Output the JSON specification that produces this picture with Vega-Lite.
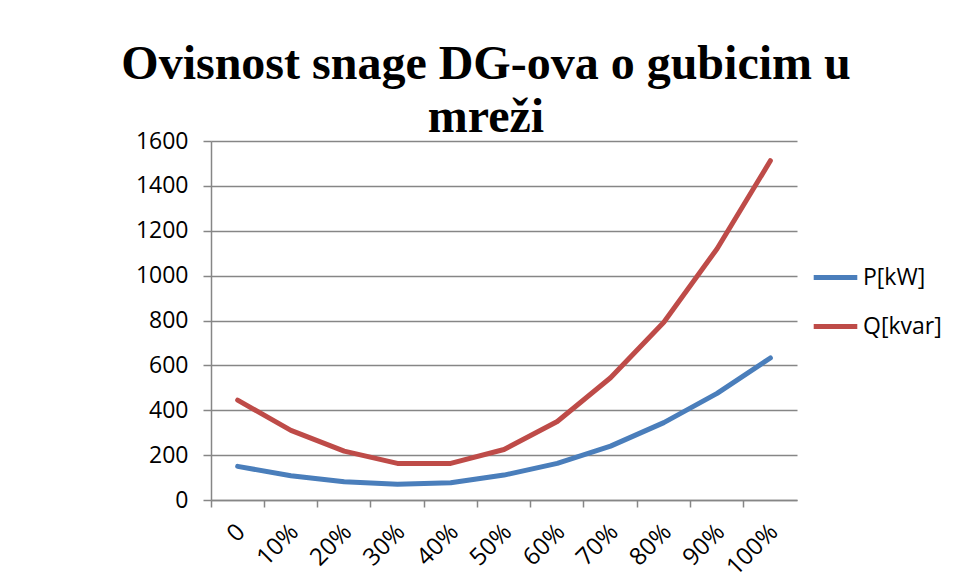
{
  "$schema": "https://vega.github.io/schema/vega-lite/v6.json",
  "width": 586,
  "height": 359,
  "autosize": {"type": "none"},
  "padding": {"left": 211, "top": 141, "right": 156, "bottom": 84},
  "background": "white",
  "title": {
    "text": ["Ovisnost snage DG-ova o gubicim u", "mreži"],
    "font": "Liberation Serif",
    "fontSize": 48,
    "fontWeight": "bold",
    "color": "black",
    "lineHeight": 53,
    "anchor": "middle",
    "dx": -18,
    "dy": 16,
    "offset": 4
  },
  "data": {
    "values": [
      {"x": "0", "s": "P[kW]", "v": 150},
      {"x": "10%", "s": "P[kW]", "v": 108},
      {"x": "20%", "s": "P[kW]", "v": 81},
      {"x": "30%", "s": "P[kW]", "v": 70},
      {"x": "40%", "s": "P[kW]", "v": 77},
      {"x": "50%", "s": "P[kW]", "v": 111},
      {"x": "60%", "s": "P[kW]", "v": 163},
      {"x": "70%", "s": "P[kW]", "v": 240},
      {"x": "80%", "s": "P[kW]", "v": 345},
      {"x": "90%", "s": "P[kW]", "v": 475},
      {"x": "100%", "s": "P[kW]", "v": 633},
      {"x": "0", "s": "Q[kvar]", "v": 445},
      {"x": "10%", "s": "Q[kvar]", "v": 310},
      {"x": "20%", "s": "Q[kvar]", "v": 218},
      {"x": "30%", "s": "Q[kvar]", "v": 163},
      {"x": "40%", "s": "Q[kvar]", "v": 163},
      {"x": "50%", "s": "Q[kvar]", "v": 225},
      {"x": "60%", "s": "Q[kvar]", "v": 350},
      {"x": "70%", "s": "Q[kvar]", "v": 545},
      {"x": "80%", "s": "Q[kvar]", "v": 792},
      {"x": "90%", "s": "Q[kvar]", "v": 1120},
      {"x": "100%", "s": "Q[kvar]", "v": 1512}
    ]
  },
  "mark": {"type": "line", "strokeWidth": 5, "strokeCap": "round", "strokeJoin": "round"},
  "encoding": {
    "x": {
      "field": "x",
      "type": "ordinal",
      "sort": null,
      "scale": {"type": "band", "paddingInner": 0, "paddingOuter": 0},
      "axis": {
        "title": null,
        "labelAngle": -45,
        "labelAlign": "right",
        "labelBaseline": "middle",
        "labelFont": "Open Sans",
        "labelFontSize": 24,
        "labelColor": "black",
        "labelPadding": 21,
        "labelOffset": 4,
        "bandPosition": 0,
        "tickColor": "#868686",
        "tickSize": 7,
        "tickWidth": 1.5,
        "domainColor": "#868686",
        "domainWidth": 1.5,
        "grid": false
      }
    },
    "y": {
      "field": "v",
      "type": "quantitative",
      "scale": {"domain": [0, 1600], "nice": false},
      "axis": {
        "title": null,
        "values": [0, 200, 400, 600, 800, 1000, 1200, 1400, 1600],
        "format": "d",
        "labelFont": "Open Sans",
        "labelFontSize": 23,
        "labelColor": "black",
        "labelPadding": 15,
        "tickColor": "#868686",
        "tickSize": 8,
        "tickWidth": 1.5,
        "domainColor": "#868686",
        "domainWidth": 1.5,
        "grid": true,
        "gridColor": "#868686",
        "gridWidth": 1.5
      }
    },
    "color": {
      "field": "s",
      "type": "nominal",
      "scale": {"domain": ["P[kW]", "Q[kvar]"], "range": ["#4A7EBB", "#BE4B48"]},
      "legend": {
        "title": null,
        "orient": "none",
        "legendX": 600,
        "legendY": 112,
        "symbolType": "stroke",
        "symbolSize": 1900,
        "symbolStrokeWidth": 5,
        "labelFont": "Open Sans",
        "labelFontSize": 23,
        "labelColor": "black",
        "rowPadding": 12,
        "labelOffset": 3
      }
    }
  },
  "config": {"view": {"stroke": null}}
}
